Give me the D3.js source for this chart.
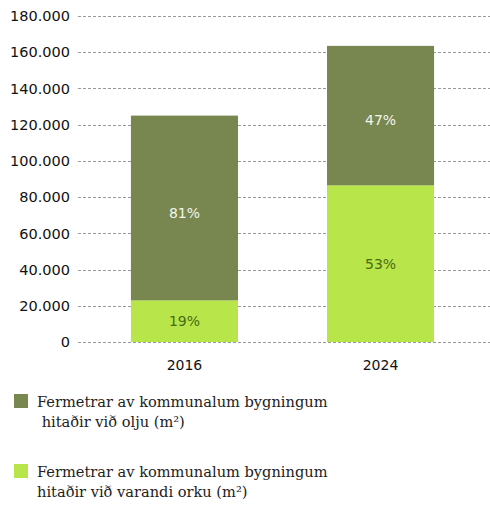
<!DOCTYPE html>
<html>
<head>
<meta charset="utf-8">
<script src="https://cdn.jsdelivr.net/npm/d3@7"></script>
<style>
  body { margin: 0; background: #fff; }
  svg { display: block; }
</style>
</head>
<body>
<div id="chart"></div>
<script>
const years = ["2016", "2024"]
const oilArea = [102000, 77000]        // dark segment (olja)
const renewableArea = [23000, 86500]   // light segment (varandi orka)
const oilPct = ["81%", "47%"]
const renewablePct = ["19%", "53%"]
const yTicks = [0, 20000, 40000, 60000, 80000, 100000, 120000, 140000, 160000, 180000]
const legendLabels = [
  ["Fermetrar av kommunalum bygningum", " hitaðir við olju (m²)"],
  ["Fermetrar av kommunalum bygningum", "hitaðir við varandi orku (m²)"]
]

const width = 490, height = 505
const darkColor = "#77874f", lightColor = "#b7e54a"
const tickFont = "'DejaVu Sans', sans-serif"

const svg = d3.select("#chart").append("svg")
  .attr("width", width)
  .attr("height", height)

const y = d3.scaleLinear()
  .domain([0, 180000])
  .range([342, 16])

const x = d3.scaleBand()
  .domain(years)
  .range([78, 487])
  .paddingInner(0.454)
  .paddingOuter(0.27)

// dashed gridlines
svg.append("g")
  .selectAll("line")
  .data(yTicks)
  .join("line")
    .attr("x1", 78)
    .attr("x2", width)
    .attr("y1", d => Math.round(y(d)) + 0.5)
    .attr("y2", d => Math.round(y(d)) + 0.5)
    .attr("stroke", "#9a9a9a")
    .attr("stroke-width", 1)
    .attr("stroke-dasharray", "3,2")

// y tick labels
svg.append("g")
  .selectAll("text")
  .data(yTicks)
  .join("text")
    .attr("x", 70)
    .attr("y", d => y(d))
    .attr("dy", "0.36em")
    .attr("text-anchor", "end")
    .attr("font-family", tickFont)
    .attr("font-size", 14.5)
    .attr("fill", "#111")
    .text(d => d === 0 ? "0" : d3.format(",")(d).replace(/,/g, "."))

const rows = years.map((yr, i) => ({
  year: yr,
  light: renewableArea[i],
  dark: oilArea[i],
  lightPct: renewablePct[i],
  darkPct: oilPct[i]
}))

const bars = svg.append("g")
  .selectAll("g")
  .data(rows)
  .join("g")

bars.append("rect")
  .attr("x", d => x(d.year))
  .attr("width", x.bandwidth())
  .attr("y", d => y(d.light))
  .attr("height", d => y(0) - y(d.light))
  .attr("fill", lightColor)

bars.append("rect")
  .attr("x", d => x(d.year))
  .attr("width", x.bandwidth())
  .attr("y", d => y(d.light + d.dark))
  .attr("height", d => y(d.light) - y(d.light + d.dark))
  .attr("fill", darkColor)

bars.append("text")
  .attr("x", d => x(d.year) + x.bandwidth() / 2)
  .attr("y", d => y(d.light / 2))
  .attr("dy", "0.36em")
  .attr("text-anchor", "middle")
  .attr("font-family", tickFont)
  .attr("font-size", 14)
  .attr("fill", "#4a6a14")
  .text(d => d.lightPct)

bars.append("text")
  .attr("x", d => x(d.year) + x.bandwidth() / 2)
  .attr("y", d => y(d.light + d.dark / 2))
  .attr("dy", "0.7em")
  .attr("text-anchor", "middle")
  .attr("font-family", tickFont)
  .attr("font-size", 14)
  .attr("fill", "#f4f4ee")
  .text(d => d.darkPct)

// x labels
svg.append("g")
  .selectAll("text")
  .data(years)
  .join("text")
    .attr("x", d => x(d) + x.bandwidth() / 2)
    .attr("y", 365)
    .attr("dy", "0.36em")
    .attr("text-anchor", "middle")
    .attr("font-family", tickFont)
    .attr("font-size", 14)
    .attr("font-weight", 500)
    .attr("fill", "#111")
    .text(d => d)

// legend
const legend = svg.append("g")
  .selectAll("g")
  .data(legendLabels)
  .join("g")
    .attr("transform", (d, i) => `translate(14, ${394 + i * 70})`)

legend.append("rect")
  .attr("width", 14)
  .attr("height", 14)
  .attr("fill", (d, i) => i === 0 ? darkColor : lightColor)

legend.append("text")
  .attr("font-family", "'DejaVu Serif', serif")
  .attr("font-size", 14.6)
  .attr("fill", "#222")
  .attr("xml:space", "preserve")
  .style("white-space", "pre")
  .selectAll("tspan")
  .data(d => d)
  .join("tspan")
    .attr("x", 23)
    .attr("y", (d, i) => 13 + i * 20)
    .text(d => d)
</script>
</body>
</html>
